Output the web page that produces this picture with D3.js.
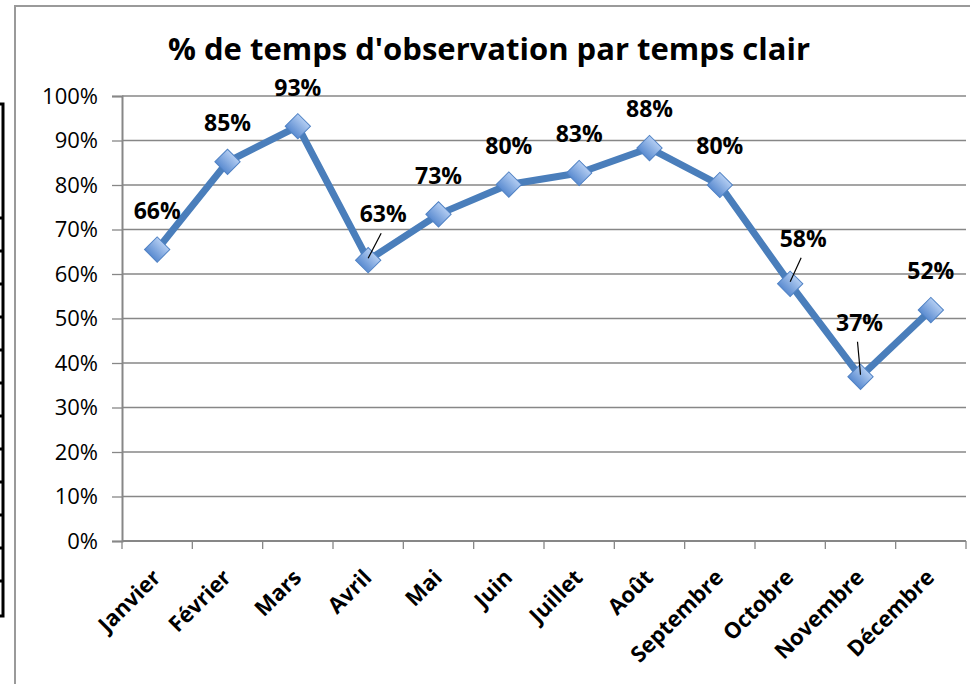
<!DOCTYPE html>
<html>
<head>
<meta charset="utf-8">
<script src="https://cdn.jsdelivr.net/npm/d3@7"></script>
<style>
  body { margin: 0; background: #fff; }
  svg { display: block; }
</style>
</head>
<body>
<svg id="svg" width="970" height="684"></svg>
<script>
// data
var months = ["Janvier", "Février", "Mars", "Avril", "Mai", "Juin",
              "Juillet", "Août", "Septembre", "Octobre", "Novembre", "Décembre"];
var clearTime = [0.655, 0.852, 0.932, 0.631, 0.734, 0.801,
                 0.827, 0.883, 0.800, 0.578, 0.369, 0.519];
var yTicks = [0, 0.1, 0.2, 0.3, 0.4, 0.5, 0.6, 0.7, 0.8, 0.9, 1];
var title = "% de temps d'observation par temps clair";

var svg = d3.select("#svg");
var blue = "#4a7ebb";
var gridCol = "#878787";

// plot area (note: "top" is taken by window.top)
var pLeft = 122, pRight = 966, pTop = 96, pBottom = 541;

var xScale = d3.scaleBand()
    .domain(months)
    .range([pLeft, pRight]);

var yScale = d3.scaleLinear()
    .domain([0, 1])
    .range([pBottom, pTop]);

// gradient for the diamonds
var defs = svg.append("defs");
var grad = defs.append("linearGradient")
    .attr("id", "mk")
    .attr("x1", 0).attr("y1", 0).attr("x2", 0).attr("y2", 1);
grad.append("stop").attr("offset", "0%").attr("stop-color", "#b3cdf2");
grad.append("stop").attr("offset", "100%").attr("stop-color", "#5a8bd0");

// bits of the spreadsheet table cut off on the left
var frag = svg.append("g").attr("stroke", "#000").attr("stroke-width", 3);
frag.append("path").attr("fill", "none")
    .attr("d", "M0,104 H3 V616 H0");
for (var yy = 218; yy < 600; yy += 33) {
    frag.append("line").attr("x1", 0).attr("x2", 3).attr("y1", yy).attr("y2", yy);
}

// chart area border
svg.append("rect")
    .attr("x", 15).attr("y", 6)
    .attr("width", 970).attr("height", 700)
    .attr("fill", "#fff")
    .attr("stroke", "#9a9a9a")
    .attr("stroke-width", 2);

// title
svg.append("text")
    .attr("x", 489)
    .attr("y", 60)
    .attr("text-anchor", "middle")
    .style("font", "bold 31px 'Open Sans'")
    .text(title);

// horizontal gridlines
svg.append("g")
    .selectAll("line")
    .data(yTicks.slice(1))
    .enter()
    .append("line")
    .attr("x1", pLeft).attr("x2", pRight)
    .attr("y1", function(d) { return yScale(d); })
    .attr("y2", function(d) { return yScale(d); })
    .attr("stroke", gridCol)
    .attr("stroke-width", 1.3);

// y axis
var yAxis = svg.append("g")
    .attr("transform", "translate(" + pLeft + ",0)")
    .call(d3.axisLeft(yScale).tickValues(yTicks).tickFormat(d3.format(".0%")).tickSize(10).tickPadding(14));
yAxis.select(".domain").attr("stroke", gridCol).attr("stroke-width", 2);
yAxis.selectAll(".tick line").attr("stroke", gridCol).attr("stroke-width", 1.3);
yAxis.selectAll(".tick text")
    .style("font", "22px 'Open Sans'")
    .attr("fill", "#000");

// x axis line + tick marks on category boundaries
var xg = svg.append("g");
xg.append("line")
    .attr("x1", pLeft).attr("x2", pRight)
    .attr("y1", pBottom).attr("y2", pBottom)
    .attr("stroke", gridCol).attr("stroke-width", 2);
var bounds = months.map(function(m) { return xScale(m); }).concat([pRight]);
xg.selectAll("line.tk")
    .data(bounds)
    .enter()
    .append("line")
    .attr("class", "tk")
    .attr("x1", function(d) { return d; })
    .attr("x2", function(d) { return d; })
    .attr("y1", pBottom).attr("y2", pBottom + 8)
    .attr("stroke", gridCol).attr("stroke-width", 1.3);

// x labels, rotated
xg.selectAll("text")
    .data(months)
    .enter()
    .append("text")
    .attr("transform", function(d) {
        var cx = xScale(d) + xScale.bandwidth() / 2;
        return "translate(" + (cx - 6) + "," + (pBottom + 27) + ") rotate(-45)";
    })
    .attr("text-anchor", "end")
    .attr("dy", "0.7em")
    .style("font", "bold 22px 'Open Sans'")
    .text(function(d) { return d; });

// the line
var cxOf = function(i) { return xScale(months[i]) + xScale.bandwidth() / 2; };
var line = d3.line()
    .x(function(d, i) { return cxOf(i); })
    .y(function(d) { return yScale(d); });

svg.append("path")
    .datum(clearTime)
    .attr("d", line)
    .attr("fill", "none")
    .attr("stroke", blue)
    .attr("stroke-width", 7)
    .attr("stroke-linejoin", "round");

// diamonds
svg.append("g")
    .selectAll("path")
    .data(clearTime)
    .enter()
    .append("path")
    .attr("d", d3.symbol(d3.symbolSquare, 320))
    .attr("transform", function(d, i) {
        return "translate(" + cxOf(i) + "," + yScale(d) + ") rotate(45)";
    })
    .attr("fill", "url(#mk)")
    .attr("stroke", "#5082c4")
    .attr("stroke-width", 1);

// data labels, a few are pushed aside with a leader line
var labelShift = { 3: [15, -46], 9: [13, -45], 10: [-1, -54] };

var labels = svg.append("g");
clearTime.forEach(function(v, i) {
    var px = cxOf(i), py = yScale(v);
    var s = labelShift[i] || [0, -39];
    var lx = px + s[0], ly = py + s[1];
    labels.append("text")
        .attr("x", lx)
        .attr("y", ly)
        .attr("dy", "0.36em")
        .attr("text-anchor", "middle")
        .style("font", "bold 23px 'Open Sans'")
        .text(Math.round(v * 100) + "%");
    if (labelShift[i]) {
        labels.append("line")
            .attr("x1", px).attr("y1", py - 2)
            .attr("x2", lx - 2).attr("y2", ly + 19)
            .attr("stroke", "#000").attr("stroke-width", 1.2);
    }
});
</script>
</body>
</html>
